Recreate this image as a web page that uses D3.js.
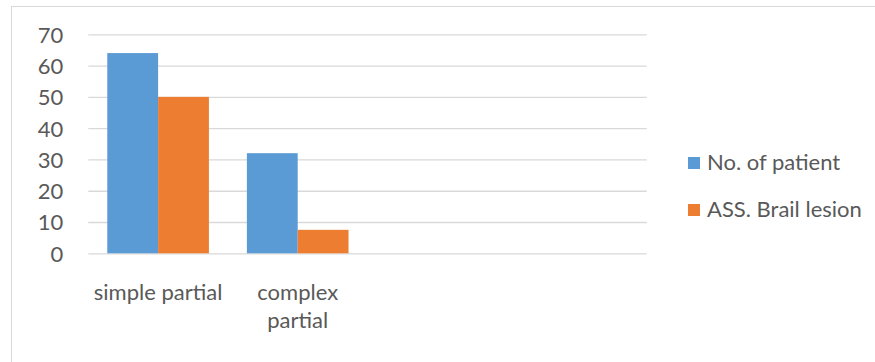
<!DOCTYPE html>
<html><head><meta charset="utf-8">
<script src="https://cdn.jsdelivr.net/npm/d3@7"></script>
<style>body{margin:0;background:#fff}svg{display:block}text{font-family:Lato,sans-serif;fill:#595959}</style>
</head><body>
<svg id="c" width="875" height="362"></svg>
<script>
const categories = ["simple partial", "complex partial", "", ""];
const seriesNames = ["No. of patient", "ASS. Brail lesion"];
const patients = [64, 32, null, null];
const lesions = [50, 7.5, null, null];
const yTicks = [0, 10, 20, 30, 40, 50, 60, 70];
const colors = ["#5B9BD5", "#ED7D31"];

const svg = d3.select("#c");
const fs = 22;
const ff = "Lato";
svg.append("rect").attr("x", 11.5).attr("y", 6.5).attr("width", 900).attr("height", 370)
  .attr("fill", "none").attr("stroke", "#D9D9D9");

const x0 = d3.scaleBand().domain(d3.range(categories.length)).range([88.3, 646.7])
  .paddingInner(0.272).paddingOuter(0.136);
const x1 = d3.scaleBand().domain([0, 1]).range([0, x0.bandwidth()]);
const y = d3.scaleLinear().domain([0, 70]).range([253.3, 34.3]);

// gridlines
const yAxis = d3.axisLeft(y).tickValues(yTicks).tickSize(-(646.7 - 88.3)).tickPadding(25);
const gy = svg.append("g").attr("transform", "translate(88.3,0)").call(yAxis);
gy.select(".domain").remove();
gy.selectAll(".tick line").attr("stroke", "#D9D9D9").attr("stroke-width", 1.3);
gy.selectAll(".tick text").attr("font-size", fs).attr("fill", "#595959")
  .attr("font-family", ff).attr("dy", "0.36em");

// bars
const series = [patients, lesions];
series.forEach((vals, si) => {
  svg.append("g").selectAll("rect").data(vals.map((v, i) => ({v, i})).filter(d => d.v != null))
    .join("rect")
    .attr("x", d => x0(d.i) + x1(si))
    .attr("width", x1.bandwidth())
    .attr("y", d => y(d.v))
    .attr("height", d => y(0) - y(d.v))
    .attr("fill", colors[si]);
});

// category labels with wrapping
const base = 47;
const xAxis = d3.axisBottom(x0).tickFormat(i => categories[i]).tickSize(0).tickPadding(0);
const gx = svg.append("g").attr("transform", "translate(0,253.3)").call(xAxis);
gx.select(".domain").remove();
gx.selectAll(".tick text").attr("font-size", fs).attr("font-family", ff)
  .attr("fill", "#595959").attr("y", base).attr("dy", 0)
  .each(function(i) {
    const t = d3.select(this);
    const words = categories[i].split(" ");
    t.text(null);
    let line = [], lineNo = 0;
    let ts = t.append("tspan").attr("x", 0).attr("y", base);
    words.forEach(w => {
      line.push(w);
      ts.text(line.join(" "));
      if (ts.node().getComputedTextLength() > x0.step() && line.length > 1) {
        line.pop(); ts.text(line.join(" "));
        line = [w]; lineNo++;
        ts = t.append("tspan").attr("x", 0).attr("y", base + lineNo * 28).text(w);
      }
    });
  });

// legend
const lg = svg.append("g");
seriesNames.forEach((n, i) => {
  const yy = 170 + i * 47;
  lg.append("rect").attr("x", 688).attr("y", yy - 13).attr("width", 12).attr("height", 12).attr("fill", colors[i]);
  lg.append("text").attr("x", 707).attr("y", yy).attr("font-size", fs).attr("font-family", ff).text(n);
});
</script>
</body></html>
